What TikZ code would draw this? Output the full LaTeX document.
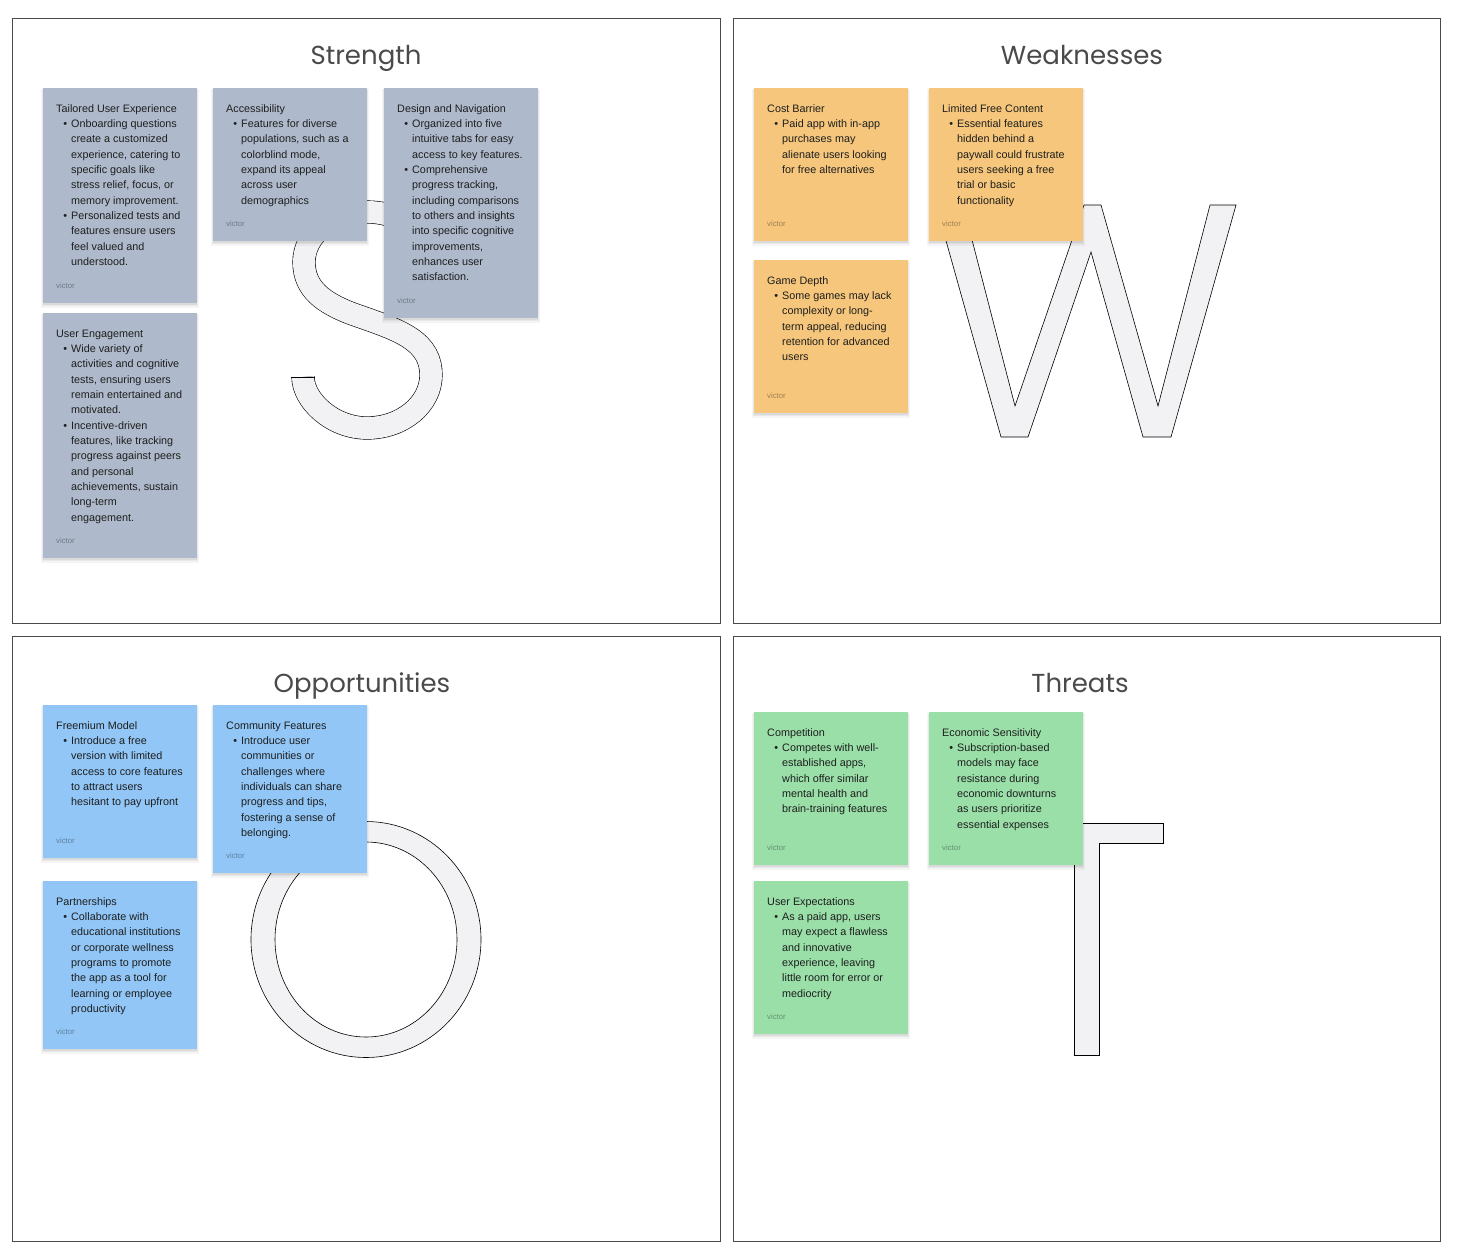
\documentclass[tikz,border=0pt]{standalone}
\usepackage{fontspec}
\setmainfont{Liberation Sans}
\newfontfamily\titlefont{Poppins}
\definecolor{sgrey}{HTML}{AEBACB}
\definecolor{worange}{HTML}{F5C67B}
\definecolor{oblue}{HTML}{91C6F6}
\definecolor{tgreen}{HTML}{9ADFA8}
\definecolor{letterfill}{HTML}{F2F2F4}
\definecolor{txt}{HTML}{1E1E1E}
\definecolor{framec}{HTML}{4A4A4A}
\definecolor{titlec}{HTML}{4A4A4A}
\newcommand{\bpt}[1]{\hspace*{15pt}\llap{\textbullet\hspace{4pt}}#1}
\newcommand{\bct}[1]{\hspace*{15pt}#1}
\newcommand{\snote}[6]{%
  \fill[black,opacity=0.04] (#2-2,#3+1) rectangle (#2+156,#3+#4+5);
  \fill[black,opacity=0.05] (#2-1,#3+1) rectangle (#2+155,#3+#4+3);
  \fill[black,opacity=0.06] (#2,#3+1) rectangle (#2+154,#3+#4+1.5);
  \node[notebox, fill=#5, minimum height=#4pt, anchor=north west] (#1) at (#2,#3) {};
  \node[notetext, anchor=north west] (#1-text) at (#2+13,#3+16) {\rule{0pt}{8pt}#6};
  \node[victor, anchor=base west] (#1-by) at (#2+13,#3+#4-15) {victor};
}
\tikzset{
  panel/.style={draw=framec, line width=0.9pt, fill=white},
  letter/.style={fill=letterfill, draw=black, line width=0.6pt},
  notebox/.style={rectangle, draw=none, minimum width=154pt, inner sep=0pt, outer sep=0pt},
  notetext/.style={inner sep=0pt, align=left, text=txt, font=\fontsize{10.8}{15.33}\selectfont},
  victor/.style={inner sep=0pt, text=black, text opacity=0.35, font=\fontsize{7.8}{9}\selectfont},
  ttl/.style={inner sep=0pt, anchor=base, text=titlec, font=\titlefont\fontsize{26}{30}\selectfont},
}
\begin{document}
\begin{tikzpicture}[x=1pt,y=-1pt]
\useasboundingbox (0,0) rectangle (1458,1258);
\fill[white] (0,0) rectangle (1458,1258);
% panels
\draw[panel] (12,18) rectangle (720,623);
\draw[panel] (733,18) rectangle (1440,623);
\draw[panel] (12,636) rectangle (720,1241);
\draw[panel] (733,636) rectangle (1440,1241);
% titles
\node[ttl] (tS) at (366,64) {Strength};
\node[ttl] (tW) at (1082,64) {Weaknesses};
\node[ttl] (tO) at (362,692) {Opportunities};
\node[ttl] (tT) at (1080,692) {Threats};
% big letters
\draw[line width=0.6pt, double=letterfill, double distance=22pt]
  (425,245) .. controls (415,225) and (395,212) .. (367,212)
  .. controls (332.2,212) and (304,234.4) .. (304,262)
  .. controls (304,290) and (325,303) .. (350,313)
  .. controls (375,322) and (395,328) .. (410,338)
  .. controls (425,348) and (431,360) .. (431,375)
  .. controls (431,404.3) and (402.3,428) .. (367,428)
  .. controls (331.7,428) and (303,399.8) .. (303,377);
\draw[line width=0.6pt] (291.4,377) -- (314.6,377);
\filldraw[letter] (936,205) -- (963,205) -- (1015,406) -- (1084,205) -- (1101,205)
  -- (1158,406) -- (1210,205) -- (1236,205) -- (1171,437) -- (1143,437)
  -- (1091,252) -- (1028,437) -- (1001,437) -- cycle;
\filldraw[letter, even odd rule] (366,939.5) ellipse [x radius=115, y radius=118]
  (366,939.5) ellipse [x radius=91, y radius=97.5];
\filldraw[letter] (1009,823) -- (1163,823) -- (1163,843) -- (1099,843) -- (1099,1055)
  -- (1074,1055) -- (1074,843) -- (1009,843) -- cycle;
% Strength notes
\snote{s1}{43}{88}{215}{sgrey}{Tailored User Experience\\
\bpt{Onboarding questions}\\ \bct{create a customized}\\ \bct{experience, catering to}\\
\bct{specific goals like}\\ \bct{stress relief, focus, or}\\ \bct{memory improvement.}\\
\bpt{Personalized tests and}\\ \bct{features ensure users}\\ \bct{feel valued and}\\ \bct{understood.}}
\snote{s2}{213}{88}{153}{sgrey}{Accessibility\\
\bpt{Features for diverse}\\ \bct{populations, such as a}\\ \bct{colorblind mode,}\\
\bct{expand its appeal}\\ \bct{across user}\\ \bct{demographics}}
\snote{s3}{384}{88}{230}{sgrey}{Design and Navigation\\
\bpt{Organized into five}\\ \bct{intuitive tabs for easy}\\ \bct{access to key features.}\\
\bpt{Comprehensive}\\ \bct{progress tracking,}\\ \bct{including comparisons}\\
\bct{to others and insights}\\ \bct{into specific cognitive}\\ \bct{improvements,}\\
\bct{enhances user}\\ \bct{satisfaction.}}
\snote{s4}{43}{313}{245}{sgrey}{User Engagement\\
\bpt{Wide variety of}\\ \bct{activities and cognitive}\\ \bct{tests, ensuring users}\\
\bct{remain entertained and}\\ \bct{motivated.}\\
\bpt{Incentive-driven}\\ \bct{features, like tracking}\\ \bct{progress against peers}\\
\bct{and personal}\\ \bct{achievements, sustain}\\ \bct{long-term}\\ \bct{engagement.}}
% Weakness notes
\snote{w1}{754}{88}{153}{worange}{Cost Barrier\\
\bpt{Paid app with in-app}\\ \bct{purchases may}\\ \bct{alienate users looking}\\
\bct{for free alternatives}}
\snote{w2}{929}{88}{153}{worange}{Limited Free Content\\
\bpt{Essential features}\\ \bct{hidden behind a}\\ \bct{paywall could frustrate}\\
\bct{users seeking a free}\\ \bct{trial or basic}\\ \bct{functionality}}
\snote{w3}{754}{260}{153}{worange}{Game Depth\\
\bpt{Some games may lack}\\ \bct{complexity or long-}\\ \bct{term appeal, reducing}\\
\bct{retention for advanced}\\ \bct{users}}
% Opportunity notes
\snote{o1}{43}{705}{153}{oblue}{Freemium Model\\
\bpt{Introduce a free}\\ \bct{version with limited}\\ \bct{access to core features}\\
\bct{to attract users}\\ \bct{hesitant to pay upfront}}
\snote{o2}{213}{705}{168}{oblue}{Community Features\\
\bpt{Introduce user}\\ \bct{communities or}\\ \bct{challenges where}\\
\bct{individuals can share}\\ \bct{progress and tips,}\\ \bct{fostering a sense of}\\
\bct{belonging.}}
\snote{o3}{43}{881}{168}{oblue}{Partnerships\\
\bpt{Collaborate with}\\ \bct{educational institutions}\\ \bct{or corporate wellness}\\
\bct{programs to promote}\\ \bct{the app as a tool for}\\ \bct{learning or employee}\\
\bct{productivity}}
% Threat notes
\snote{t1}{754}{712}{153}{tgreen}{Competition\\
\bpt{Competes with well-}\\ \bct{established apps,}\\ \bct{which offer similar}\\
\bct{mental health and}\\ \bct{brain-training features}}
\snote{t2}{929}{712}{153}{tgreen}{Economic Sensitivity\\
\bpt{Subscription-based}\\ \bct{models may face}\\ \bct{resistance during}\\
\bct{economic downturns}\\ \bct{as users prioritize}\\ \bct{essential expenses}}
\snote{t3}{754}{881}{153}{tgreen}{User Expectations\\
\bpt{As a paid app, users}\\ \bct{may expect a flawless}\\ \bct{and innovative}\\
\bct{experience, leaving}\\ \bct{little room for error or}\\ \bct{mediocrity}}
\end{tikzpicture}
\end{document}
